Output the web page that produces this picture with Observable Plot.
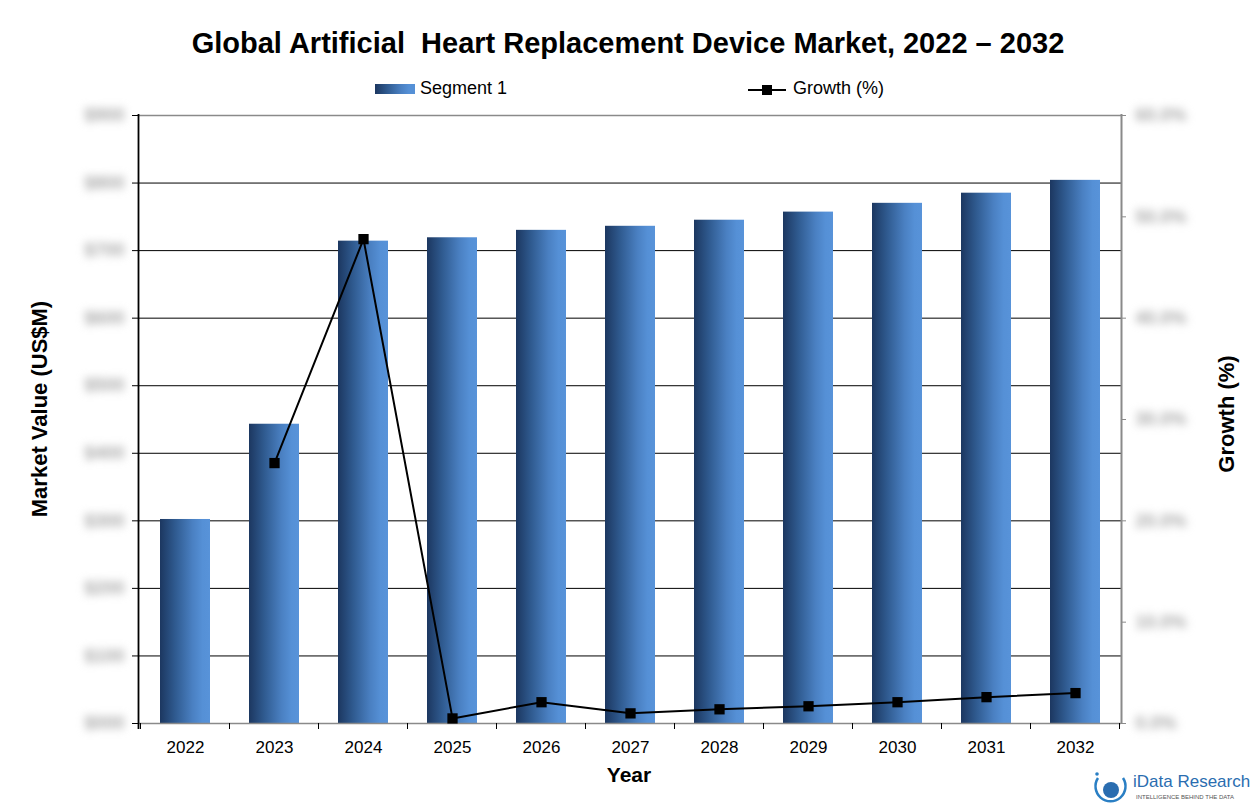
<!DOCTYPE html>
<html><head><meta charset="utf-8">
<script src="https://cdn.jsdelivr.net/npm/d3@7"></script>
<script src="https://cdn.jsdelivr.net/npm/@observablehq/plot@0.6"></script>
<style>
body{margin:0;background:#fff;font-family:"Liberation Sans",Arial,sans-serif;}
#wrap{position:relative;width:1256px;height:810px;overflow:hidden;}
#chart{position:absolute;left:0;top:0;}
.abs{position:absolute;white-space:pre;color:#000;}
</style></head>
<body><div id="wrap"><div id="chart"></div>
<div class="abs" style="left:0;width:1256px;top:27px;text-align:center;font-size:29px;font-weight:bold;">Global Artificial  Heart Replacement Device Market, 2022 – 2032</div>
<div class="abs" style="left:375px;top:84px;width:40px;height:10px;background:linear-gradient(to right,#1c3760,#2f5a8f 30%,#4a80c2 65%,#5590d6 85%);"></div>
<div class="abs" style="left:420px;top:78px;font-size:18px;">Segment 1</div>
<svg class="abs" style="left:746px;top:80px" width="42" height="20"><line x1="2" y1="10" x2="40" y2="10" stroke="#000" stroke-width="2"/><rect x="16" y="5" width="10" height="10" fill="#000"/></svg>
<div class="abs" style="left:793px;top:78px;font-size:18px;">Growth (%)</div>
<div class="abs" style="left:40px;top:409px;font-size:22px;font-weight:bold;transform:translate(-50%,-50%) rotate(-90deg);">Market Value (US$M)</div>
<div class="abs" style="left:1227px;top:414px;font-size:22px;font-weight:bold;transform:translate(-50%,-50%) rotate(-90deg);">Growth (%)</div>
<div class="abs" style="left:0;width:1258px;top:763px;text-align:center;font-size:21px;font-weight:bold;">Year</div>
<svg class="abs" style="left:1090px;top:770px" width="42" height="38"><path d="M 8 8 A 15 15 0 1 0 33 8" fill="none" stroke="#2a7fc4" stroke-width="2.5"/><circle cx="21" cy="20" r="8" fill="#2a6db0"/><circle cx="7" cy="4" r="1.8" fill="#2a7fc4"/></svg>
<div class="abs" style="left:1133px;top:772px;font-size:17px;color:#2a6db0;">iData Research</div>
<div class="abs" style="left:1136px;top:794px;font-size:6px;color:#555;">INTELLIGENCE BEHIND THE DATA</div>
</div>
<script>
const years = ["2022","2023","2024","2025","2026","2027","2028","2029","2030","2031","2032"];
const marketValue = [3.02, 4.43, 7.14, 7.19, 7.30, 7.36, 7.45, 7.57, 7.70, 7.85, 8.04];
const growthYears = ["2023","2024","2025","2026","2027","2028","2029","2030","2031","2032"];
const growthPct = [25.7, 47.8, 0.5, 2.1, 1.0, 1.4, 1.7, 2.1, 2.6, 3.0];
const leftTicks = [0,1,2,3,4,5,6,7,8,9];
const leftTickLabels = ["$000","$100","$200","$300","$400","$500","$600","$700","$800","$900"];
const rightTicks = [0,10,20,30,40,50,60];
const rightTickLabels = ["0.0%","10.0%","20.0%","30.0%","40.0%","50.0%","60.0%"];

const gScale = 9 / 60; // growth % -> left units
const bars = years.map((y,i)=>({year:y, value:marketValue[i]}));
const growth = growthYears.map((y,i)=>({year:y, g:growthPct[i], yv:growthPct[i]*gScale}));

const defs = () => {
  const ns="http://www.w3.org/2000/svg";
  const d=document.createElementNS(ns,"defs");
  d.innerHTML = `<linearGradient id="barGrad" x1="0" x2="1" y1="0" y2="0">
   <stop offset="0" stop-color="#1c3760"/><stop offset="0.3" stop-color="#2f5a8f"/>
   <stop offset="0.65" stop-color="#4a80c2"/><stop offset="0.85" stop-color="#5590d6"/>
   <stop offset="1" stop-color="#5893d9"/></linearGradient>`;
  return d;
};

const xTicks = (index, scales, values, dim) => {
  const ns="http://www.w3.org/2000/svg";
  const g=document.createElementNS(ns,"g");
  const x=scales.x; const step = x(years[1]) - x(years[0]);
  const yb = dim.height - dim.marginBottom;
  const bounds = years.map(y => x(y) - step*0.22).concat([x(years[years.length-1]) - step*0.22 + step]);
  for (const b of bounds) {
    const l=document.createElementNS(ns,"line");
    l.setAttribute("x1",Math.round(b)+0.5); l.setAttribute("x2",Math.round(b)+0.5);
    l.setAttribute("y1",yb); l.setAttribute("y2",yb+6);
    l.setAttribute("stroke","#000"); g.appendChild(l);
  }
  return g;
};

const chart = Plot.plot({
  width:1256, height:810,
  marginTop:115, marginBottom:87, marginLeft:138, marginRight:135,
  style:{fontFamily:"'Liberation Sans', Arial, sans-serif", background:"#fff"},
  x:{type:"band", domain:years, paddingInner:0.44, paddingOuter:0.22, label:null},
  y:{domain:[0,9], label:null},
  marks:[
    defs,
    Plot.ruleY(leftTicks.slice(1,-1), {stroke:"#000", strokeWidth:1}),
    Plot.barY(bars, {x:"year", y:"value", fill:"url(#barGrad)"}),
    Plot.ruleY([9], {stroke:"#8a8a8a", strokeWidth:1.5}),
    Plot.ruleY([0], {stroke:"#8a8a8a", strokeWidth:1.5}),
    Plot.axisX({tickSize:0, tickPadding:17, fontSize:17, label:null}),
    xTicks,
    Plot.axisY({ticks:leftTicks, tickSize:6, tickFormat:(d,i)=>leftTickLabels[i], fontSize:18, fontWeight:"bold", tickPadding:8, label:null, stroke:"#000"}),
    Plot.axisY({anchor:"right", ticks:rightTicks.map(v=>v*gScale), tickSize:4, tickFormat:(d,i)=>rightTickLabels[i], fontSize:18, fontWeight:"bold", tickPadding:10, label:null, stroke:"#8a8a8a"}),
    Plot.lineY(growth, {x:"year", y:"yv", stroke:"#000", strokeWidth:2}),
    Plot.dot(growth, {x:"year", y:"yv", symbol:"square", r:5.8, fill:"#000", stroke:"none"})
  ]
});
document.getElementById("chart").appendChild(chart);
const svg = d3.select(chart);
// tick labels are obscured (blurred) in the reference
svg.selectAll("g[aria-label='y-axis tick label'] text").attr("fill","#a8a8a8").style("filter","blur(4px)");
const left = 138, right = 1256-135;
svg.append("line").attr("x1",left+0.5).attr("x2",left+0.5).attr("y1",114).attr("y2",729).attr("stroke","#000").attr("stroke-width",1.8);
svg.append("line").attr("x1",right+0.5).attr("x2",right+0.5).attr("y1",114).attr("y2",724).attr("stroke","#8a8a8a").attr("stroke-width",2);
</script></body></html>
